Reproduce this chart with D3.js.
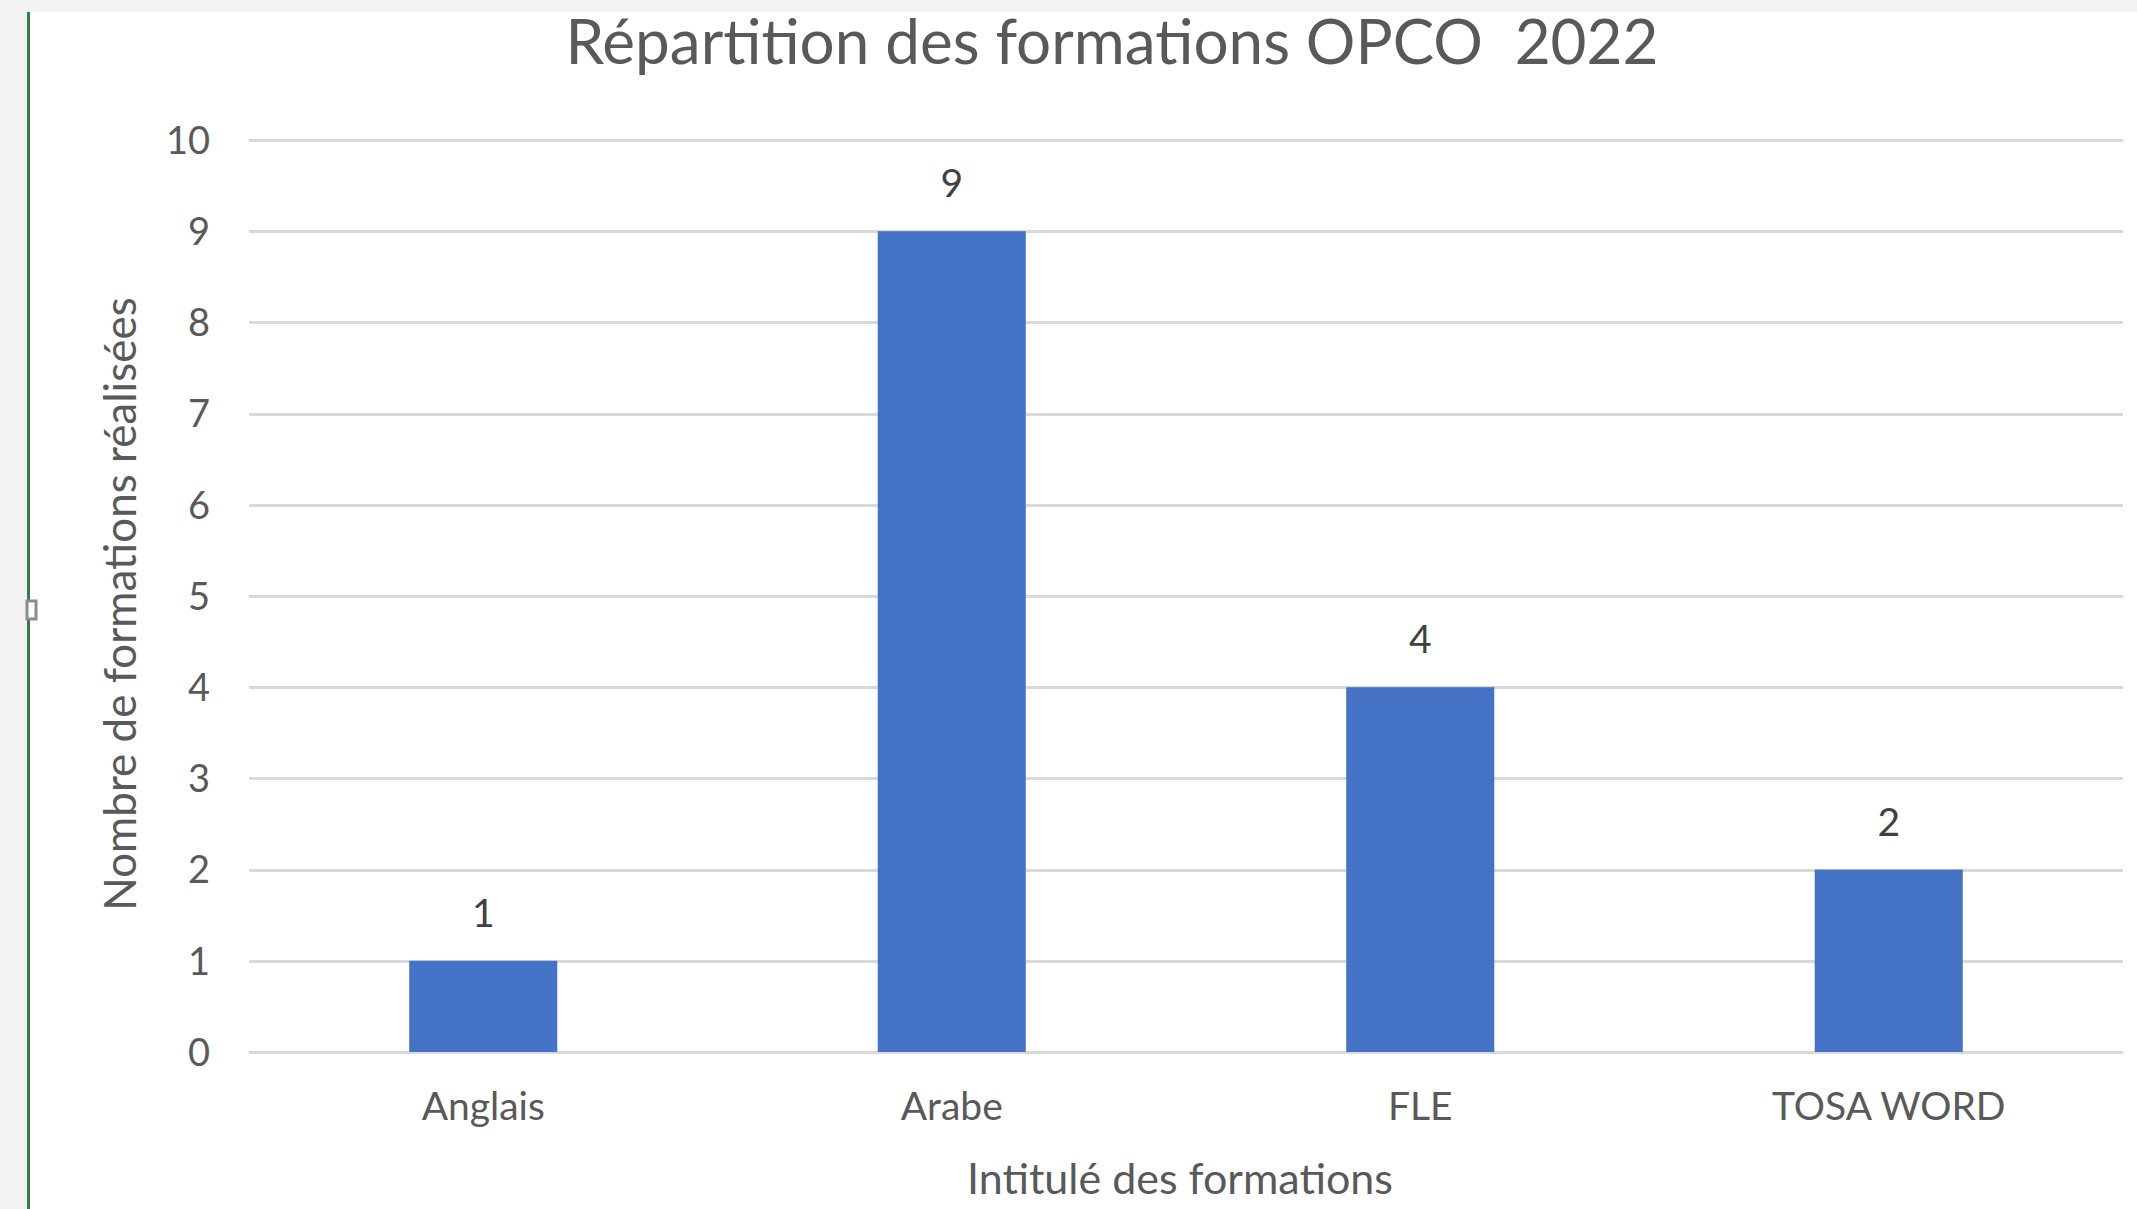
<!DOCTYPE html>
<html>
  <head>
    <meta charset="utf-8">
    <script src="https://cdn.jsdelivr.net/npm/d3@7"></script>
    <style type="text/css">
      body { margin: 0; background: #ffffff; }
      text { font-family: Lato, "Open Sans", sans-serif; }
      .grid line { stroke: #d9d9d9; stroke-width: 3; shape-rendering: crispEdges; }
      .grid path { display: none; }
      .axis path, .axis line { display: none; }
      .axis text { fill: #595959; font-size: 38px; }
    </style>
  </head>
  <body>
    <div class="plot_canvas"></div>
    <script>

    // data
    var categories = ["Anglais", "Arabe", "FLE", "TOSA WORD"];
    var values = [1, 9, 4, 2];
    var yTicks = [0, 1, 2, 3, 4, 5, 6, 7, 8, 9, 10];

    var title = "Répartition des formations OPCO  2022";
    var xTitle = "Intitulé des formations";
    var yTitle = "Nombre de formations réalisées";

    var W = 2137, H = 1209;
    var margin = {top: 140, right: 14, bottom: 157, left: 249};

    var svg = d3.select(".plot_canvas")
      .append("svg")
      .attr("width", W)
      .attr("height", H);

    // window frame around the chart
    svg.append("rect").attr("x", 0).attr("y", 0).attr("width", W).attr("height", H).attr("fill", "#f2f2f2");
    svg.append("rect").attr("x", 29).attr("y", 12).attr("width", W - 29).attr("height", H - 12).attr("fill", "#ffffff");
    svg.append("rect").attr("x", 27).attr("y", 12).attr("width", 3).attr("height", H - 12).attr("fill", "#2f7d4b");
    svg.append("rect").attr("x", 27).attr("y", 601).attr("width", 9).attr("height", 18)
      .attr("fill", "#ffffff").attr("stroke", "#8c8c8c").attr("stroke-width", 3);

    var xScale = d3.scaleBand()
      .domain(categories)
      .range([margin.left, W - margin.right])
      .paddingInner(0.684)
      .paddingOuter(0.342);

    var yScale = d3.scaleLinear()
      .domain([0, 10])
      .range([H - margin.bottom, margin.top]);

    // gridlines
    svg.append("g")
      .attr("class", "grid")
      .attr("transform", "translate(" + margin.left + ",0)")
      .call(d3.axisLeft(yScale).tickValues(yTicks).tickSize(-(W - margin.right - margin.left)).tickFormat(""));

    // y axis labels
    svg.append("g")
      .attr("class", "axis")
      .attr("transform", "translate(" + (margin.left - 27) + ",0)")
      .call(d3.axisLeft(yScale).tickValues(yTicks).tickSize(0).tickPadding(12))
      .selectAll("text").attr("dy", "0.35em");

    // bars
    svg.append("g").selectAll("rect")
      .data(values).enter()
      .append("rect")
      .attr("x", function (d, i) { return xScale(categories[i]); })
      .attr("y", function (d) { return yScale(d); })
      .attr("width", xScale.bandwidth())
      .attr("height", function (d) { return yScale(0) - yScale(d); })
      .attr("fill", "#4472c4");

    // value labels
    svg.append("g").selectAll("text")
      .data(values).enter()
      .append("text")
      .attr("x", function (d, i) { return xScale(categories[i]) + xScale.bandwidth() / 2; })
      .attr("y", function (d) { return yScale(d) - 34; })
      .attr("text-anchor", "middle")
      .attr("fill", "#404040")
      .attr("font-size", "39px")
      .text(function (d) { return d; });

    // x axis labels
    svg.append("g")
      .attr("class", "axis")
      .attr("transform", "translate(0," + (H - margin.bottom) + ")")
      .call(d3.axisBottom(xScale).tickSize(0).tickPadding(40))
      .selectAll("text").style("font-size", "39px");

    // titles
    svg.append("text")
      .attr("x", 1112)
      .attr("y", 64)
      .attr("text-anchor", "middle")
      .attr("fill", "#595959")
      .attr("font-size", "62px")
      .style("white-space", "pre")
      .text(title);

    svg.append("text")
      .attr("x", 1180)
      .attr("y", 1194)
      .attr("text-anchor", "middle")
      .attr("fill", "#595959")
      .attr("font-size", "43px")
      .text(xTitle);

    svg.append("text")
      .attr("transform", "translate(136,604) rotate(-90)")
      .attr("text-anchor", "middle")
      .attr("fill", "#595959")
      .attr("font-size", "44px")
      .text(yTitle);

  </script>
</body>
</html>
